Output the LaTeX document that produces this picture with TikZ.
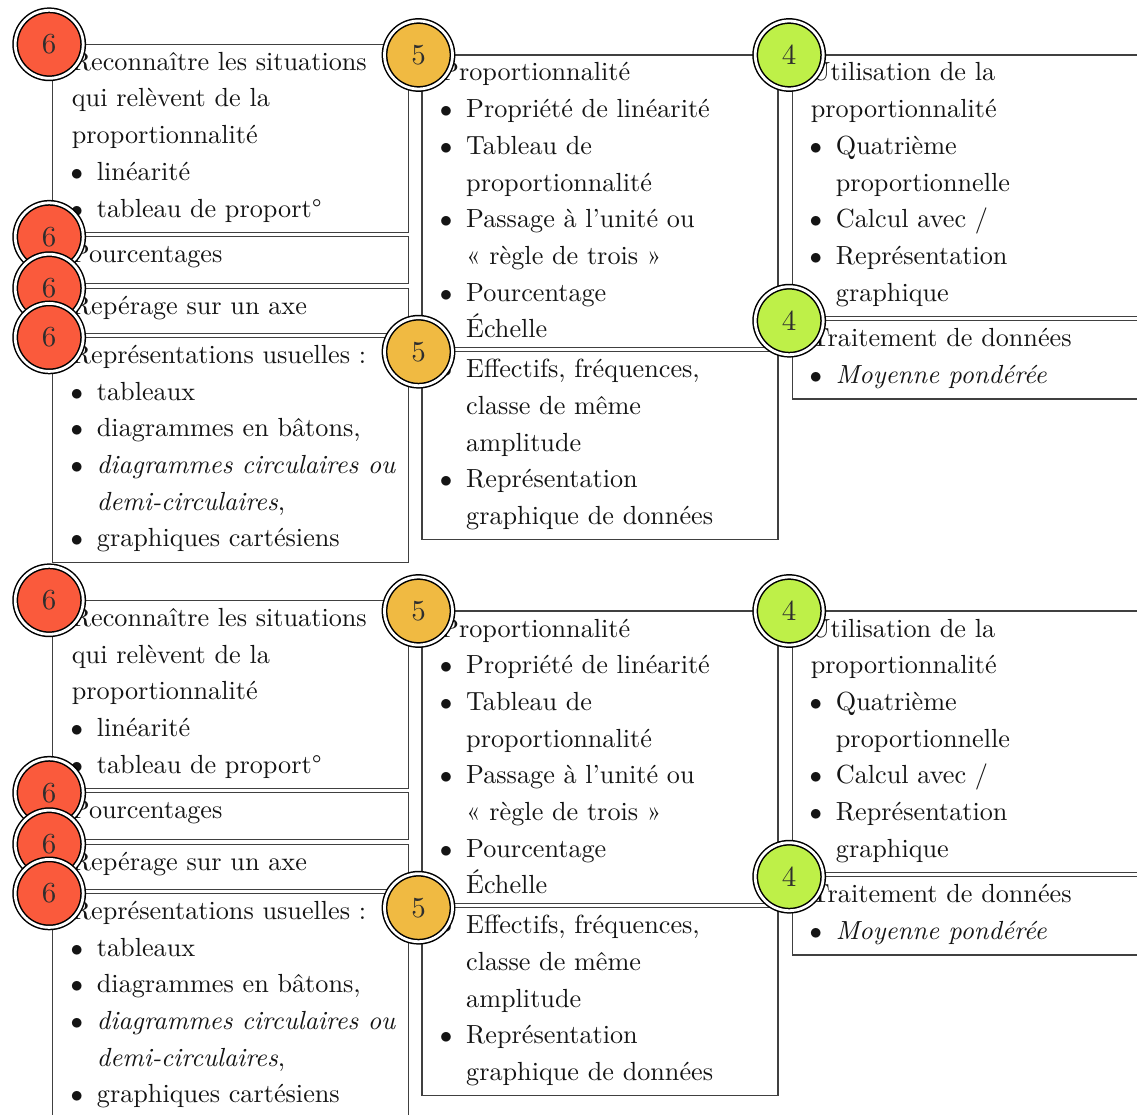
\documentclass[tikz,border=0pt]{standalone}
\usepackage{fontspec}
\setmainfont{lmroman10-regular.otf}[ItalicFont=lmroman10-italic.otf,
  BoldFont=lmroman10-bold.otf]
\definecolor{sixfill}{HTML}{FA5A3C}
\definecolor{fivefill}{HTML}{F0BA42}
\definecolor{fourfill}{HTML}{BEF048}
\definecolor{boxline}{gray}{0.25}
% bullet item, continuation indent, and top-aligned text block
\newcommand{\bitem}{\makebox[10pt][c]{$\bullet$}\hspace{15pt}}
\newcommand{\bcont}{\hspace*{25pt}}
\newcommand{\boxtext}[1]{\parbox[t]{420pt}{\raggedright #1}}

\begin{document}
\begin{tikzpicture}[x=1pt,y=-1pt,
  panel/.style={rectangle, draw=boxline, line width=1.3pt, fill=white,
    anchor=north west, inner sep=0pt, outer sep=0pt},
  body/.style={anchor=base west, inner sep=0pt, text=black!92,
    font=\fontsize{26.2}{36.7}\selectfont},
  badge/.style={circle, draw=black, line width=1.5pt, double=white,
    double distance=2.8pt, minimum size=68pt, inner sep=0pt,
    text=black!82, font=\fontsize{29}{32}\selectfont},
  six/.style={badge, fill=sixfill},
  five/.style={badge, fill=fivefill},
  four/.style={badge, fill=fourfill}]
\useasboundingbox (0,0) rectangle (1137,1115);
\clip (0,0) rectangle (1137,1115);

\foreach \k/\dy in {a/0, b/556} {
\begin{scope}[shift={(0,\dy)}]
  % --- frames: grade 6 column ---
  \node[panel, minimum width=355.6pt, minimum height=188.2pt] (L1-\k) at (52.7,44.3) {};
  \node[panel, minimum width=355.6pt, minimum height=46.4pt]  (L2-\k) at (52.7,236.8) {};
  \node[panel, minimum width=355.6pt, minimum height=45.2pt]  (L3-\k) at (52.7,288.2) {};
  \node[panel, minimum width=355.6pt, minimum height=225pt]   (L4-\k) at (52.7,337.4) {};
  % --- frames: grade 5 column ---
  \node[panel, minimum width=356pt, minimum height=292.8pt] (M1-\k) at (422,55) {};
  \node[panel, minimum width=356pt, minimum height=187.6pt] (M2-\k) at (422,351.7) {};
  % --- frames: grade 4 column ---
  \node[panel, minimum width=400pt, minimum height=261.7pt] (R1-\k) at (792.7,55) {};
  \node[panel, minimum width=400pt, minimum height=78.3pt]  (R2-\k) at (792.7,320.7) {};

  % --- contents ---
  \node[body] (L1t-\k) at ([shift={(19,26)}]L1-\k.north west) {\boxtext{%
    Reconnaître les situations\\
    qui relèvent de la\\
    proportionnalité\\
    \bitem linéarité\\
    \bitem tableau de proport°}};
  \node[body] (L2t-\k) at ([shift={(19,26)}]L2-\k.north west) {\boxtext{Pourcentages}};
  \node[body] (L3t-\k) at ([shift={(19,26)}]L3-\k.north west) {\boxtext{Repérage sur un axe}};
  \node[body] (L4t-\k) at ([shift={(19,26)}]L4-\k.north west) {\boxtext{%
    Représentations usuelles~:\\
    \bitem tableaux\\
    \bitem diagrammes en bâtons,\\
    \bitem \textit{diagrammes circulaires ou}\\
    \bcont\textit{demi-circulaires},\\
    \bitem graphiques cartésiens}};
  \node[body] (M1t-\k) at ([shift={(19,26)}]M1-\k.north west) {\boxtext{%
    Proportionnalité\\
    \bitem Propriété de linéarité\\
    \bitem Tableau de\\
    \bcont proportionnalité\\
    \bitem Passage à l’unité ou\\
    \bcont « règle de trois »\\
    \bitem Pourcentage\\
    \bcont Échelle}};
  \node[body] (M2t-\k) at ([shift={(19,26)}]M2-\k.north west) {\boxtext{%
    \bitem Effectifs, fréquences,\\
    \bcont classe de même\\
    \bcont amplitude\\
    \bitem Représentation\\
    \bcont graphique de données}};
  \node[body] (R1t-\k) at ([shift={(18,26)}]R1-\k.north west) {\boxtext{%
    Utilisation de la\\
    proportionnalité\\
    \bitem Quatrième\\
    \bcont proportionnelle\\
    \bitem Calcul avec /\\
    \bitem Représentation\\
    \bcont graphique}};
  \node[body] (R2t-\k) at ([shift={(18,26)}]R2-\k.north west) {\boxtext{%
    Traitement de données\\
    \bitem \textit{Moyenne pondérée}}};

  % --- level badges on the top-left corners ---
  \node[six]  (cL1-\k) at ([shift={(-3.5,0)}]L1-\k.north west) {6};
  \node[six]  (cL2-\k) at ([shift={(-3.5,0)}]L2-\k.north west) {6};
  \node[six]  (cL3-\k) at ([shift={(-3.5,0)}]L3-\k.north west) {6};
  \node[six]  (cL4-\k) at ([shift={(-3.5,0)}]L4-\k.north west) {6};
  \node[five] (cM1-\k) at ([shift={(-3.5,0)}]M1-\k.north west) {5};
  \node[five] (cM2-\k) at ([shift={(-3.5,0)}]M2-\k.north west) {5};
  \node[four] (cR1-\k) at ([shift={(-3.5,0)}]R1-\k.north west) {4};
  \node[four] (cR2-\k) at ([shift={(-3.5,0)}]R2-\k.north west) {4};
\end{scope}
}
\end{tikzpicture}
\end{document}
